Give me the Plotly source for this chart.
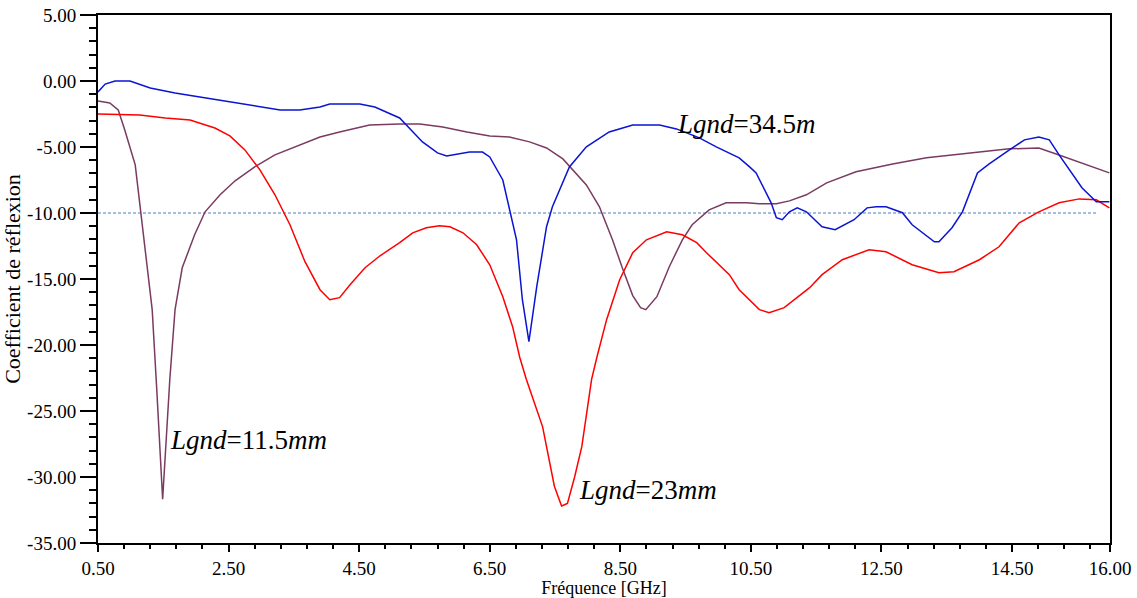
import plotly.graph_objects as go

# Lgnd = 34.5 mm (blue)
freq_345 = [0.50, 0.61, 0.76, 0.99, 1.30, 1.68, 2.06, 2.52, 2.90, 3.06, 3.29, 3.59, 3.90, 4.05, 4.51, 4.74,
            5.12, 5.47, 5.70, 5.84, 6.19, 6.39, 6.50, 6.70, 6.80, 6.91, 7.00, 7.10, 7.22, 7.37, 7.46, 7.57,
            7.72, 7.98, 8.33, 8.69, 9.10, 9.36, 9.71, 9.97, 10.22, 10.32, 10.48, 10.58, 10.81, 10.89, 10.98,
            11.09, 11.21, 11.35, 11.59, 11.79, 12.08, 12.28, 12.42, 12.57, 12.82, 12.97, 13.31, 13.38, 13.58,
            13.74, 13.97, 14.15, 14.46, 14.69, 14.91, 15.07, 15.22, 15.57, 15.79, 15.99]
s11_345 = [-0.83, -0.23, 0.00, 0.00, -0.53, -0.91, -1.21, -1.59, -1.89, -2.05, -2.20, -2.20, -1.97, -1.74, -1.74, -1.97,
           -2.80, -4.62, -5.45, -5.68, -5.38, -5.38, -5.75, -7.50, -9.76, -12.03, -16.57, -19.74, -15.58, -11.04, -9.53, -8.25,
           -6.51, -4.99, -3.86, -3.33, -3.33, -3.63, -4.31, -4.99, -5.60, -5.82, -6.51, -6.96, -9.23, -10.36, -10.51,
           -9.91, -9.61, -9.91, -11.04, -11.27, -10.51, -9.61, -9.53, -9.53, -9.98, -10.89, -12.18, -12.18, -11.12,
           -9.91, -6.96, -6.28, -5.22, -4.46, -4.24, -4.46, -5.60, -8.09, -9.15, -9.15]

# Lgnd = 23 mm (red)
freq_23 = [0.50, 1.14, 1.53, 1.91, 2.29, 2.52, 2.75, 2.98, 3.21, 3.44, 3.67, 3.90, 4.05, 4.20, 4.36, 4.59, 4.82,
           5.12, 5.32, 5.53, 5.73, 5.89, 6.09, 6.30, 6.50, 6.70, 6.85, 6.96, 7.06, 7.31, 7.49, 7.60, 7.69,
           7.80, 7.91, 8.06, 8.14, 8.29, 8.49, 8.69, 8.90, 9.21, 9.45, 9.67, 9.82, 10.17, 10.32, 10.63, 10.78,
           11.01, 11.40, 11.59, 11.90, 12.31, 12.57, 12.97, 13.38, 13.61, 14.00, 14.30, 14.61, 14.91, 15.22,
           15.53, 15.79, 15.99]
s11_23 = [-2.50, -2.57, -2.80, -2.95, -3.56, -4.16, -5.22, -6.73, -8.62, -10.89, -13.69, -15.81, -16.57, -16.41, -15.43, -14.15, -13.24,
          -12.25, -11.50, -11.12, -10.97, -11.04, -11.50, -12.41, -13.92, -16.34, -18.61, -20.95, -22.60, -26.20, -30.70, -32.20, -32.00,
          -30.00, -27.70, -22.60, -20.95, -18.08, -15.05, -13.01, -12.03, -11.42, -11.65, -12.25, -13.01, -14.67, -15.81, -17.32, -17.55,
          -17.17, -15.66, -14.67, -13.54, -12.78, -12.94, -13.92, -14.52, -14.45, -13.54, -12.56, -10.74, -9.91, -9.23,
          -8.93, -9.00, -9.61]

# Lgnd = 11.5 mm (purple)
freq_115 = [0.50, 0.68, 0.81, 0.91, 1.07, 1.22, 1.33, 1.40, 1.49, 1.60, 1.68, 1.79, 1.98, 2.14, 2.37, 2.60, 2.90,
            3.21, 3.59, 3.90, 4.20, 4.66, 5.12, 5.43, 5.78, 6.15, 6.50, 6.80, 7.11, 7.37, 7.62, 7.77, 7.98,
            8.18, 8.38, 8.53, 8.69, 8.81, 8.89, 9.06, 9.25, 9.45, 9.60, 9.86, 10.12, 10.43, 10.63, 10.89,
            11.09, 11.35, 11.66, 12.11, 12.67, 13.19, 13.69, 14.00, 14.46, 14.91, 15.22, 15.57, 15.79, 15.99]
s11_115 = [-1.51, -1.66, -2.19, -3.71, -6.35, -12.41, -17.32, -23.37, -31.69, -22.60, -17.32, -14.15, -11.65, -9.91, -8.62, -7.56, -6.51,
           -5.60, -4.84, -4.24, -3.86, -3.33, -3.25, -3.25, -3.48, -3.86, -4.16, -4.24, -4.61, -5.07, -5.90, -6.73, -7.87,
           -9.53, -12.03, -14.15, -16.26, -17.17, -17.32, -16.34, -14.07, -12.03, -10.89, -9.76, -9.23, -9.23, -9.30, -9.30,
           -9.08, -8.62, -7.72, -6.88, -6.28, -5.82, -5.52, -5.37, -5.14, -5.07, -5.60, -6.20, -6.58, -6.96]

threshold_x = [0.5, 15.8]
threshold_y = [-10, -10]

x_tickvals = [0.5, 2.5, 4.5, 6.5, 8.5, 10.5, 12.5, 14.5, 16.0]
x_ticktext = ["0.50", "2.50", "4.50", "6.50", "8.50", "10.50", "12.50", "14.50", "16.00"]
y_tickvals = [5, 0, -5, -10, -15, -20, -25, -30, -35]
y_ticktext = ["5.00", "0.00", "-5.00", "-10.00", "-15.00", "-20.00", "-25.00", "-30.00", "-35.00"]

FONT = "Liberation Serif"

fig = go.Figure()
fig.add_trace(go.Scatter(x=threshold_x, y=threshold_y, mode="lines",
                         line=dict(color="#4a7ebb", width=1, dash="3px,2px"), showlegend=False, hoverinfo="skip"))
fig.add_trace(go.Scatter(x=freq_115, y=s11_115, mode="lines", line=dict(color="#7a3b62", width=1.5), name="11.5"))
fig.add_trace(go.Scatter(x=freq_23, y=s11_23, mode="lines", line=dict(color="#ff0000", width=1.5), name="23"))
fig.add_trace(go.Scatter(x=freq_345, y=s11_345, mode="lines", line=dict(color="#0a14d2", width=1.5), name="34.5"))

ann_font = dict(family=FONT, size=27, color="black")
fig.add_annotation(x=1.57, y=-27.2, text="<i>Lgnd</i>=11.5<i>mm</i>", showarrow=False,
                   xanchor="left", yanchor="middle", font=ann_font)
fig.add_annotation(x=7.83, y=-31.0, text="<i>Lgnd</i>=23<i>mm</i>", showarrow=False,
                   xanchor="left", yanchor="middle", font=ann_font)
fig.add_annotation(x=9.33, y=-3.26, text="<i>Lgnd</i>=34.5<i>m</i>", showarrow=False,
                   xanchor="left", yanchor="middle", font=ann_font)

fig.update_layout(
    width=1137, height=598,
    margin=dict(l=98, r=27, t=15, b=55),
    paper_bgcolor="white", plot_bgcolor="white",
    showlegend=False,
    font=dict(family=FONT, size=18, color="black"),
    xaxis=dict(range=[0.5, 16.0], tickmode="array", tickvals=x_tickvals, ticktext=x_ticktext,
               ticks="outside", ticklen=7, tickwidth=1.5, tickcolor="black",
               showline=True, linecolor="black", linewidth=2, mirror=True,
               showgrid=False, zeroline=False, automargin=False,
               minor=dict(tickmode="linear", tick0=0.5, dtick=0.4, ticks="outside", ticklen=4,
                          tickwidth=1.5, tickcolor="black", showgrid=False),
               title=dict(text="Fréquence [GHz]", font=dict(size=18)),
               tickfont=dict(size=19)),
    yaxis=dict(range=[-35, 5], tickmode="array", tickvals=y_tickvals, ticktext=y_ticktext,
               ticks="outside", ticklen=16, tickwidth=1.5, tickcolor="black",
               showline=True, linecolor="black", linewidth=2, mirror=True,
               showgrid=False, zeroline=False, automargin=False,
               minor=dict(tickmode="linear", tick0=0, dtick=1, ticks="outside", ticklen=7,
                          tickwidth=1.5, tickcolor="black", showgrid=False),
               title=dict(text="Coefficient de réflexion", font=dict(size=22)),
               tickfont=dict(size=19)),
)

fig.write_html("out.html")
